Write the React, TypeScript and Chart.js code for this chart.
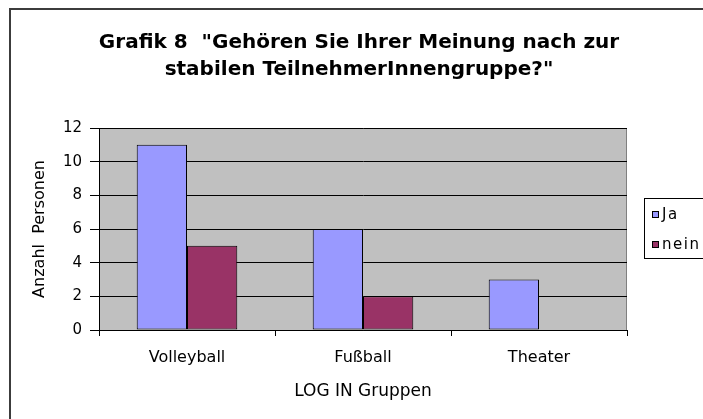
import { useEffect, useRef } from 'react';
import { Chart, registerables } from 'chart.js';

Chart.register(...registerables);

const categories = ['Volleyball', 'Fußball', 'Theater'];
const seriesNames = ['Ja', 'nein'];
const jaValues = [11, 6, 3];
const neinValues = [5, 2, 0];
const seriesColors = ['#9999ff', '#993366'];
const titleLines = ['Grafik 8  "Gehören Sie Ihrer Meinung nach zur', 'stabilen TeilnehmerInnengruppe?"'];
const xAxisTitle = 'LOG IN Gruppen';
const yAxisTitle = 'Anzahl  Personen';
const yMin = 0;
const yMax = 12;
const yStep = 2;

const FONT = "'DejaVu Sans', 'Liberation Sans', sans-serif";

export default function App() {
  const ref = useRef<HTMLCanvasElement>(null);

  useEffect(() => {
    document.body.style.margin = '0';
    const canvas = ref.current;
    if (!canvas) return;

    const decorPlugin = {
      id: 'decor',
      beforeDraw(chart: any) {
        const { ctx, chartArea: a } = chart;
        ctx.save();
        ctx.fillStyle = '#ffffff';
        ctx.fillRect(0, 0, chart.width, chart.height);
        ctx.strokeStyle = '#3c3c3c';
        ctx.lineWidth = 2;
        ctx.strokeRect(10, 9, chart.width + 20, chart.height + 20);
        ctx.fillStyle = '#c0c0c0';
        ctx.fillRect(a.left, a.top, a.right - a.left, a.bottom - a.top);
        ctx.strokeStyle = '#808080';
        ctx.lineWidth = 1;
        ctx.strokeRect(a.left + 0.5, a.top + 0.5, a.right - a.left - 1, a.bottom - a.top);
        ctx.restore();
      },
      afterDraw(chart: any) {
        const { ctx } = chart;
        ctx.save();
        // title
        ctx.fillStyle = '#000000';
        ctx.font = `bold 20px ${FONT}`;
        ctx.textAlign = 'center';
        ctx.textBaseline = 'alphabetic';
        titleLines.forEach((line, i) => {
          ctx.fillText(line, 359, 48 + i * 27);
        });
        // legend
        const lx = 644.5;
        const ly = 198.5;
        ctx.fillStyle = '#ffffff';
        ctx.fillRect(lx, ly, 80, 60);
        ctx.strokeStyle = '#000000';
        ctx.lineWidth = 1;
        ctx.strokeRect(lx, ly, 80, 60);
        ctx.font = `15px ${FONT}`;
        ctx.textAlign = 'left';
        ctx.textBaseline = 'middle';
        try { (ctx as any).letterSpacing = '1.5px'; } catch (e) {}
        chart.data.datasets.forEach((ds: any, i: number) => {
          const cy = 215 + i * 30;
          ctx.fillStyle = ds.backgroundColor;
          ctx.fillRect(652, cy - 4, 7, 7);
          ctx.strokeStyle = '#000000';
          ctx.strokeRect(652.5, cy - 3.5, 6, 6);
          ctx.fillStyle = '#000000';
          ctx.fillText(ds.label, 662, cy);
        });
        ctx.restore();
      },
    };

    const chart = new Chart(canvas, {
      type: 'bar',
      data: {
        labels: categories,
        datasets: [
          {
            label: seriesNames[0],
            data: jaValues,
            backgroundColor: seriesColors[0],
            borderColor: '#000000',
            borderWidth: 1,
            borderSkipped: false,
          },
          {
            label: seriesNames[1],
            data: neinValues,
            backgroundColor: seriesColors[1],
            borderColor: '#000000',
            borderWidth: 1,
            borderSkipped: false,
          },
        ],
      },
      options: {
        responsive: false,
        animation: false,
        devicePixelRatio: 1,
        layout: { padding: { left: 10, top: 128, right: 76, bottom: 0 } },
        datasets: {
          bar: { categoryPercentage: 2 / 3.5, barPercentage: 1 },
        },
        plugins: {
          legend: { display: false },
          title: { display: false },
          tooltip: { enabled: false },
        },
        scales: {
          x: {
            grid: {
              offset: true,
              drawOnChartArea: false,
              drawTicks: true,
              tickLength: 6,
              color: '#000000',
            },
            border: { display: true, color: '#000000', width: 1 },
            ticks: {
              color: '#000000',
              font: { family: FONT, size: 16 },
              padding: 12,
            },
            title: {
              display: true,
              text: xAxisTitle,
              color: '#000000',
              font: { family: FONT, size: 17 },
              padding: { top: 0, bottom: 17 },
            },
            afterFit(scale: any) {
              scale.height = 89;
            },
          },
          y: {
            min: yMin,
            max: yMax,
            grid: {
              color: '#000000',
              drawTicks: true,
              tickLength: 9,
              lineWidth: 1,
            },
            border: { display: true, color: '#000000', width: 1 },
            ticks: {
              stepSize: yStep,
              color: '#000000',
              font: { family: FONT, size: 15 },
              padding: 8,
            },
            title: {
              display: true,
              text: yAxisTitle,
              color: '#000000',
              font: { family: FONT, size: 16 },
              padding: { top: 20, bottom: 0 },
            },
            afterFit(scale: any) {
              scale.width = 89;
            },
          },
        },
      },
      plugins: [decorPlugin],
    });

    return () => chart.destroy();
  }, []);

  return <canvas ref={ref} width={703} height={419} style={{ display: 'block' }} />;
}
